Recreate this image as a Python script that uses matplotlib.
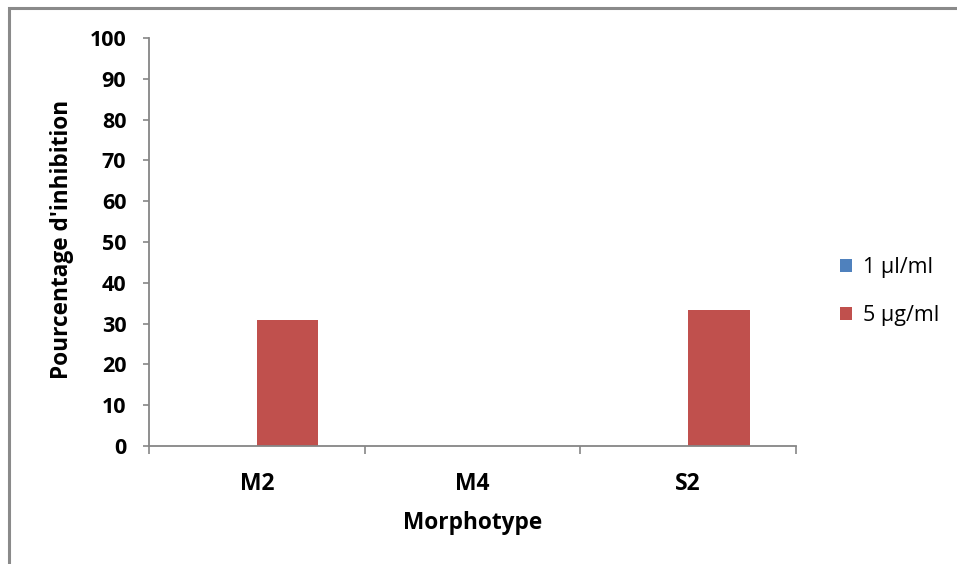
import numpy as np
import matplotlib.pyplot as plt
from matplotlib.patches import Rectangle

# data
categories = ["M2", "M4", "S2"]
dose_1ul = [0, 0, 0]
dose_5ug = [31, 0, 33.3]
series_labels = ["1 µl/ml", "5 µg/ml"]

plt.rcParams['font.family'] = ['Open Sans', 'DejaVu Sans']

fig = plt.figure(figsize=(9.57, 5.64), dpi=100)
ax = fig.add_axes([149/957, 1-446/564, (796-149)/957, (446-38)/564])

# outer frame of the chart area
fig.patches.append(Rectangle((9/957, -0.02), 1.05, 1-8/564+0.02, transform=fig.transFigure,
                             fill=False, edgecolor='#8a8a8a', linewidth=2.2))

x = np.arange(len(categories))
w = 1/3.5
ax.bar(x - w/2, dose_1ul, w, color='#4F81BD', label=series_labels[0])
ax.bar(x + w/2, dose_5ug, w, color='#C0504D', label=series_labels[1])

ax.set_xlim(-0.5, len(categories) - 0.5)
ax.set_ylim(0, 100)
ax.set_yticks(range(0, 101, 10))
ax.set_xticks(x)
ax.set_xticklabels(categories, fontsize=16.5, fontweight='bold')
ax.set_xticks(np.arange(-0.5, len(categories), 1), minor=True)
ax.tick_params(axis='x', which='major', length=0, pad=19)
ax.tick_params(axis='x', which='minor', length=6, color='#868686', width=1.2)
ax.tick_params(axis='y', length=4.3, color='#868686', width=1.2, labelsize=15.5, pad=12)
for lab in ax.get_yticklabels():
    lab.set_fontweight('bold')

for s in ['top', 'right']:
    ax.spines[s].set_visible(False)
for s in ['left', 'bottom']:
    ax.spines[s].set_color('#868686')
    ax.spines[s].set_linewidth(1.3)

ax.set_ylabel("Pourcentage d'inhibition", fontsize=16.3, fontweight='bold', va='center')
ax.yaxis.set_label_coords((62-149)/647, 0.507)
ax.set_xlabel("Morphotype", fontsize=16.3, fontweight='bold', va='center')
ax.xaxis.set_label_coords(0.5, -(523-446)/408)

fig.legend(loc='upper left', bbox_to_anchor=(821/957, 1-238/564), frameon=False,
           fontsize=15.5, handlelength=0.55, handleheight=0.55, handletextpad=0.5,
           labelspacing=1.25)

fig.savefig('out.png', dpi=100)
